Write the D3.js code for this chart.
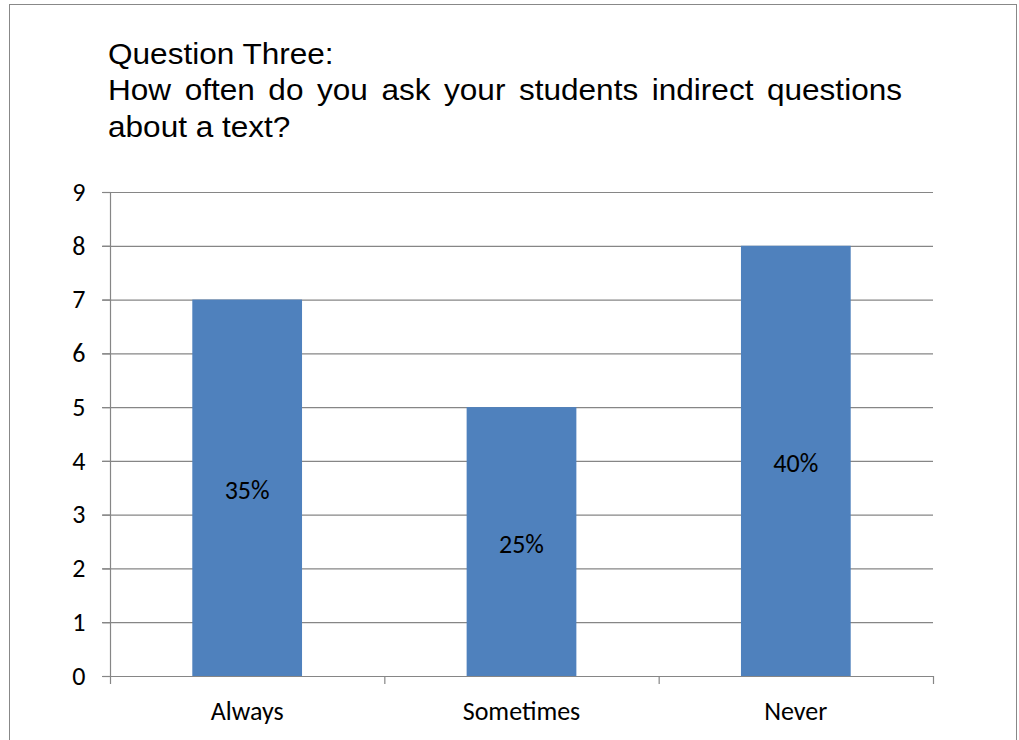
<!DOCTYPE html>
<html><head><meta charset="utf-8">
<script src="https://cdn.jsdelivr.net/npm/d3@7"></script>
<style>body{margin:0;background:#fff}</style>
</head><body>
<svg id="chart" width="1019" height="740"></svg>
<script>
const categories = ["Always", "Sometimes", "Never"];
const values = [7, 5, 8];
const percentLabels = ["35%", "25%", "40%"];
const yTicks = [0,1,2,3,4,5,6,7,8,9];
const titleLines = ["Question Three:", "How often do you ask your students indirect questions", "about a text?"];

const svg = d3.select("#chart");
const W = 1019, H = 740;
const m = {left:110, right:1019-933, top:192, bottom:740-676};
const grid = "#868686";
const labelFont = "Carlito, Calibri, Lato, sans-serif";
const LS = 26;

// outer border
svg.append("rect").attr("x",9.5).attr("y",4.5).attr("width",1007).attr("height",760)
  .attr("fill","none").attr("stroke","#888").attr("stroke-width",1);

const x = d3.scaleBand().domain(categories).range([m.left, W-m.right]).paddingInner(0.6).paddingOuter(0.3);
const y = d3.scaleLinear().domain([0,9]).range([H-m.bottom, m.top]);

// gridlines
svg.append("g").selectAll("line").data(yTicks.filter(d=>d>0)).join("line")
  .attr("x1", m.left-8).attr("x2", W-m.right)
  .attr("y1", d=>y(d)+0.5).attr("y2", d=>y(d)+0.5)
  .attr("stroke", grid).attr("stroke-width",1.2);

// bars
svg.append("g").selectAll("rect").data(values).join("rect")
  .attr("x",(d,i)=>x(categories[i])).attr("width",x.bandwidth())
  .attr("y",d=>y(d)).attr("height",d=>y(0)-y(d))
  .attr("fill","#4F81BD");

// y axis
const yAxis = d3.axisLeft(y).tickValues(yTicks).tickSize(8).tickPadding(17).tickFormat(d3.format("d"));
const gy = svg.append("g").attr("transform",`translate(${m.left+0.5},0)`).call(yAxis);
gy.attr("font-size",null).attr("font-family",null);
gy.select(".domain").remove();
gy.selectAll(".tick line").attr("stroke",grid).attr("stroke-width",1.2);
gy.selectAll("text").attr("font-family",labelFont).attr("font-size",LS).attr("fill","#000");
svg.append("line").attr("x1",m.left+0.5).attr("x2",m.left+0.5).attr("y1",m.top).attr("y2",y(0)+8)
  .attr("stroke",grid).attr("stroke-width",1.2);

// x axis
const bounds = [0,1,2,3].map(i => m.left + i*(W-m.right-m.left)/3);
svg.append("line").attr("x1",m.left-8).attr("x2",W-m.right).attr("y1",y(0)+0.5).attr("y2",y(0)+0.5)
  .attr("stroke",grid).attr("stroke-width",1.2);
svg.append("g").selectAll("line").data(bounds.slice(1)).join("line")
  .attr("x1",d=>d+0.5).attr("x2",d=>d+0.5).attr("y1",y(0)).attr("y2",y(0)+8)
  .attr("stroke",grid).attr("stroke-width",1.2);
svg.append("g").selectAll("text").data(categories).join("text")
  .attr("x",d=>x(d)+x.bandwidth()/2).attr("y",y(0)+44)
  .attr("text-anchor","middle").attr("font-family",labelFont).attr("font-size",LS).attr("fill","#000")
  .text(d=>d);

// data labels
svg.append("g").selectAll("text").data(values).join("text")
  .attr("x",(d,i)=>x(categories[i])+x.bandwidth()/2).attr("y",d=>y(d/2)+11)
  .attr("text-anchor","middle").attr("font-family",labelFont).attr("font-size",LS).attr("fill","#000")
  .text((d,i)=>percentLabels[i]);

// title (slightly stretched horizontally like the original)
const sx = 1.07;
const tg = svg.append("g").attr("transform",`translate(108,0) scale(${sx},1)`);
titleLines.forEach((t,i)=>{
  const el = tg.append("text").attr("x",0).attr("y",64+i*36.5)
    .attr("font-family","Liberation Sans, Arial, sans-serif").attr("font-size",29.5).attr("fill","#000").text(t);
  if(i===1){
    const w = el.node().getComputedTextLength();
    const spaces = (t.match(/ /g)||[]).length;
    el.attr("word-spacing", Math.max(0,((902-108)/sx-w)/spaces));
  }
});
</script>
</body></html>
